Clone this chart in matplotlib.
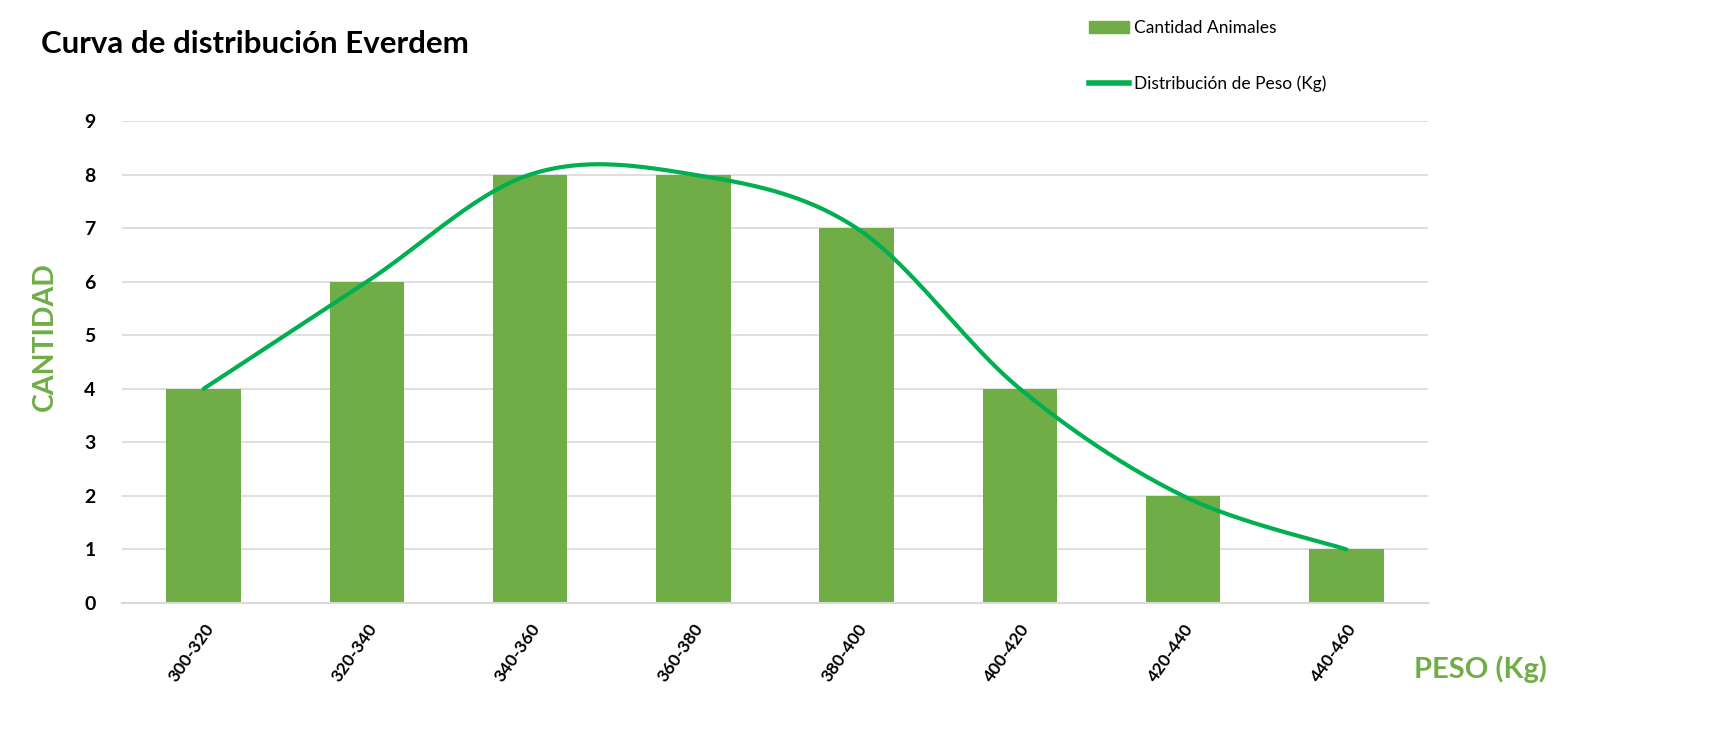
import numpy as np
import matplotlib.pyplot as plt
from matplotlib.patches import Patch
from matplotlib.lines import Line2D

plt.rcParams["font.family"] = ["Lato", "DejaVu Sans"]

# datos del grafico
rangos_peso = ["300-320", "320-340", "340-360", "360-380",
               "380-400", "400-420", "420-440", "440-460"]
cantidad_animales = [4, 6, 8, 8, 7, 4, 2, 1]
distribucion_peso = [4, 6, 8, 8, 7, 4, 2, 1]
y_ticks = [0, 1, 2, 3, 4, 5, 6, 7, 8, 9]

BAR_COLOR = "#70AD47"
LINE_COLOR = "#00B050"
GRID_COLOR = "#D9D9D9"


def smooth_curve(xs, ys, steps=40):
    # curva suavizada tipo Excel (Bezier con puntos de control Catmull-Rom)
    pts = np.column_stack([xs, ys]).astype(float)
    n = len(pts)
    out = []
    for i in range(n - 1):
        p0 = pts[i - 1] if i > 0 else pts[i]
        p1 = pts[i]
        p2 = pts[i + 1]
        p3 = pts[i + 2] if i + 2 < n else pts[i + 1]
        c1 = p1 + (p2 - p0) / 6
        c2 = p2 - (p3 - p1) / 6
        t = np.linspace(0, 1, steps)[:, None]
        seg = ((1 - t) ** 3) * p1 + 3 * ((1 - t) ** 2) * t * c1 \
            + 3 * (1 - t) * t ** 2 * c2 + t ** 3 * p2
        out.append(seg if i == 0 else seg[1:])
    seg = np.vstack(out)
    return seg[:, 0], seg[:, 1]


def main():
    fig = plt.figure(figsize=(17.26, 7.44), dpi=100)
    ax = fig.add_axes([122 / 1726, 1 - 603 / 744, (1428 - 122) / 1726, (603 - 121) / 744])

    x = np.arange(len(rangos_peso))
    ax.bar(x, cantidad_animales, width=0.455, color=BAR_COLOR, zorder=2)

    sx, sy = smooth_curve(x, distribucion_peso)
    ax.plot(sx, sy, color=LINE_COLOR, linewidth=3, solid_capstyle="round", zorder=3)

    ax.set_xlim(-0.5, len(rangos_peso) - 0.5)
    ax.set_ylim(0, 9)
    ax.set_yticks(y_ticks)
    ax.set_yticklabels([str(v) for v in y_ticks], fontsize=14, fontweight="bold")
    ax.set_xticks(x)
    ax.set_xticklabels(rangos_peso, rotation=55, ha="right", va="top",
                       rotation_mode="anchor", fontsize=12.5, fontweight="bold")
    ax.tick_params(axis="both", length=0)
    ax.tick_params(axis="x", pad=13)
    ax.tick_params(axis="y", pad=19)

    ax.grid(axis="y", color=GRID_COLOR, linewidth=1.2, zorder=0)
    for side in ["top", "right", "left"]:
        ax.spines[side].set_visible(False)
    ax.spines["bottom"].set_color(GRID_COLOR)
    ax.spines["bottom"].set_linewidth(1.5)

    fig.text(41 / 1726, 1 - 44 / 744, "Curva de distribución Everdem",
             fontsize=22.5, fontweight="bold", va="center", ha="left")
    fig.text(45 / 1726, 1 - 337 / 744, "CANTIDAD", rotation=90, color=BAR_COLOR,
             fontsize=20.5, fontweight="bold", va="center", ha="center")
    fig.text(1414 / 1726, 1 - 669 / 744, "PESO (Kg)", color=BAR_COLOR,
             fontsize=21, fontweight="bold", va="center", ha="left")

    handles = [Patch(color=BAR_COLOR), Line2D([0], [0], color=LINE_COLOR, linewidth=4)]
    fig.legend(handles, ["Cantidad Animales", "Distribución de Peso (Kg)"],
               loc="upper left", bbox_to_anchor=(1089 / 1726, 1 - 20 / 744),
               frameon=False, fontsize=12.5, handlelength=2.3, handleheight=0.7,
               handletextpad=0.3, labelspacing=2.3, borderpad=0, borderaxespad=0)

    fig.savefig("out.png", dpi=100)
    plt.close(fig)


if __name__ == "__main__":
    main()
